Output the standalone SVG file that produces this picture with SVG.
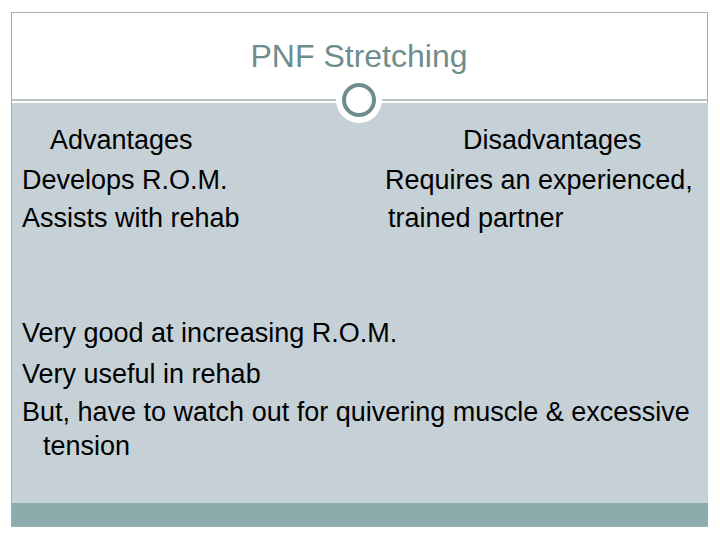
<svg xmlns="http://www.w3.org/2000/svg" width="720" height="540" viewBox="0 0 720 540">
<style>
text{font-family:"Liberation Sans",Arial,sans-serif;font-size:27px;fill:#000}
</style>
<rect width="720" height="540" fill="#fff"/>
<rect x="11.5" y="12.5" width="696" height="514" fill="#fff" stroke="#9fb2b2"/>
<rect x="12" y="103" width="696" height="400" fill="#c6d1d7"/>
<rect x="12" y="503" width="696" height="23" fill="#8aacac"/>
<line x1="12" y1="100" x2="708" y2="100" stroke="#9fb2b2" stroke-width="1.5"/>
<circle cx="359" cy="100" r="23" fill="#fff"/>
<circle cx="359" cy="100" r="15" fill="none" stroke="#6f8d8d" stroke-width="4"/>
<text x="359" y="67" text-anchor="middle" style="fill:#6f8d8d;font-size:32px">PNF Stretching</text>
<text x="50" y="149">Advantages</text>
<text x="22" y="189">Develops R.O.M.</text>
<text x="22" y="227">Assists with rehab</text>
<text x="463" y="149">Disadvantages</text>
<text x="385" y="189">Requires an experienced,</text>
<text x="388" y="227">trained partner</text>
<text x="22" y="342">Very good at increasing R.O.M.</text>
<text x="22" y="383">Very useful in rehab</text>
<text x="22" y="421">But, have to watch out for quivering muscle &amp; excessive</text>
<text x="43" y="455">tension</text>
</svg>
